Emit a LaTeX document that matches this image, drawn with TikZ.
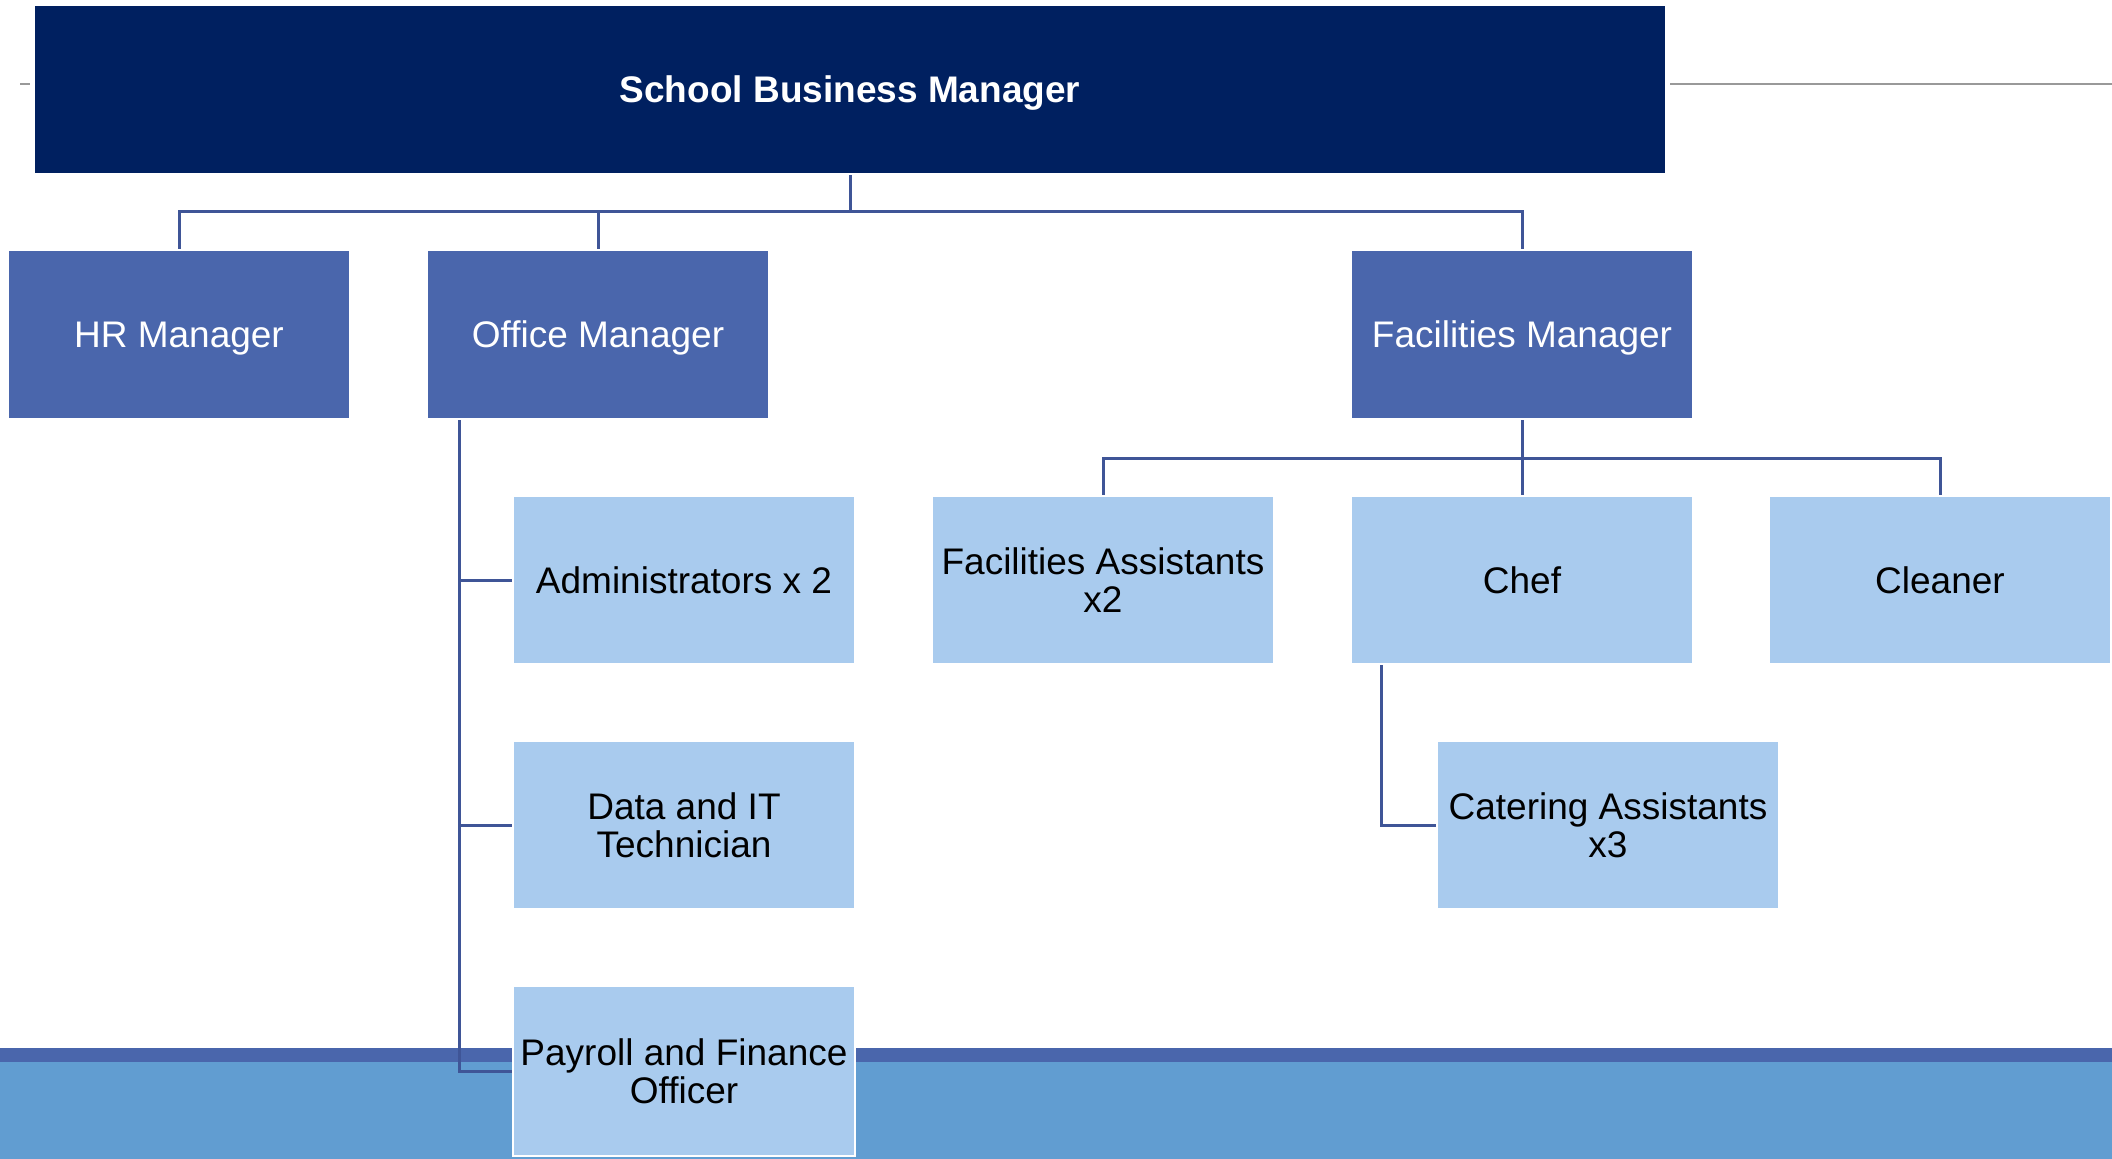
\documentclass[tikz,border=0pt]{standalone}
\usepackage{fontspec}
\setmainfont{Liberation Sans}
\definecolor{navy}{HTML}{002060}
\definecolor{midblue}{HTML}{4A66AC}
\definecolor{lightblue}{HTML}{A9CBEE}
\definecolor{bandblue}{HTML}{619DD1}
\definecolor{linkblue}{HTML}{3F5597}
\begin{document}
\begin{tikzpicture}[x=1pt,y=-1pt,
  box/.style={draw=white,line width=2.5pt,inner sep=0pt,align=center,text depth=0pt,
    font=\fontsize{37}{38}\selectfont},
  topbox/.style={box,fill=navy,text=white,minimum width=1632pt,minimum height=169pt,
    font=\fontsize{37}{38}\selectfont\bfseries},
  midbox/.style={box,fill=midblue,text=white,minimum width=342pt,minimum height=169pt},
  lightbox/.style={box,fill=lightblue,text=black,minimum width=342pt,minimum height=168pt},
  link/.style={draw=linkblue,line width=3pt},
  rule/.style={draw=black!40,line width=2pt}]
\useasboundingbox (0,0) rectangle (2112,1159);
% bottom band
\fill[midblue] (0,1048) rectangle (2112,1062);
\fill[bandblue] (0,1062) rectangle (2112,1159);
% gray rules
\coordinate (gl1) at (20,83.5);
\coordinate (gl2) at (30,83.5);
\coordinate (gr1) at (1670,83.5);
\coordinate (gr2) at (2112,83.5);
\draw[rule] (gl1) -- (gl2);
\draw[rule] (gr1) -- (gr2);
% nodes
\node[topbox] (sbm) at (850,89.5) {School Business Manager};
\node[midbox] (hr) at (179,334.5) {HR Manager};
\node[midbox] (office) at (598,334.5) {Office Manager};
\node[midbox] (fm) at (1522,334.5) {Facilities Manager};
\node[lightbox] (admin) at (684,580) {Administrators x 2};
\node[lightbox] (data) at (684,825) {Data and IT\\Technician};
\node[lightbox,minimum height=170pt] (pay) at (684,1071) {Payroll and Finance\\Officer};
\node[lightbox] (fa) at (1103,580) {Facilities Assistants\\x2};
\node[lightbox] (chef) at (1522,580) {Chef};
\node[lightbox] (clean) at (1940,580) {Cleaner};
\node[lightbox] (cat) at (1608,825) {Catering Assistants\\x3};
% connectors
\coordinate (j1) at (850,211.5);
\coordinate (j2) at (1522,458);
\draw[link] (sbm.south) -- (j1);
\draw[link] (hr.north) -- (hr.north |- j1) -| (fm.north);
\draw[link] (office.north) -- (office.north |- j1);
\draw[link] (fm.south) -- (chef.north);
\draw[link] (fa.north) -- (fa.north |- j2) -| (clean.north);
\draw[link] ([xshift=34pt]office.south west) |- (admin.west);
\draw[link] ([xshift=34pt]office.south west) |- (data.west);
\draw[link] ([xshift=34pt]office.south west) |- (pay.west);
\draw[link] ([xshift=32pt]chef.south west) |- (cat.west);
\end{tikzpicture}
\end{document}
